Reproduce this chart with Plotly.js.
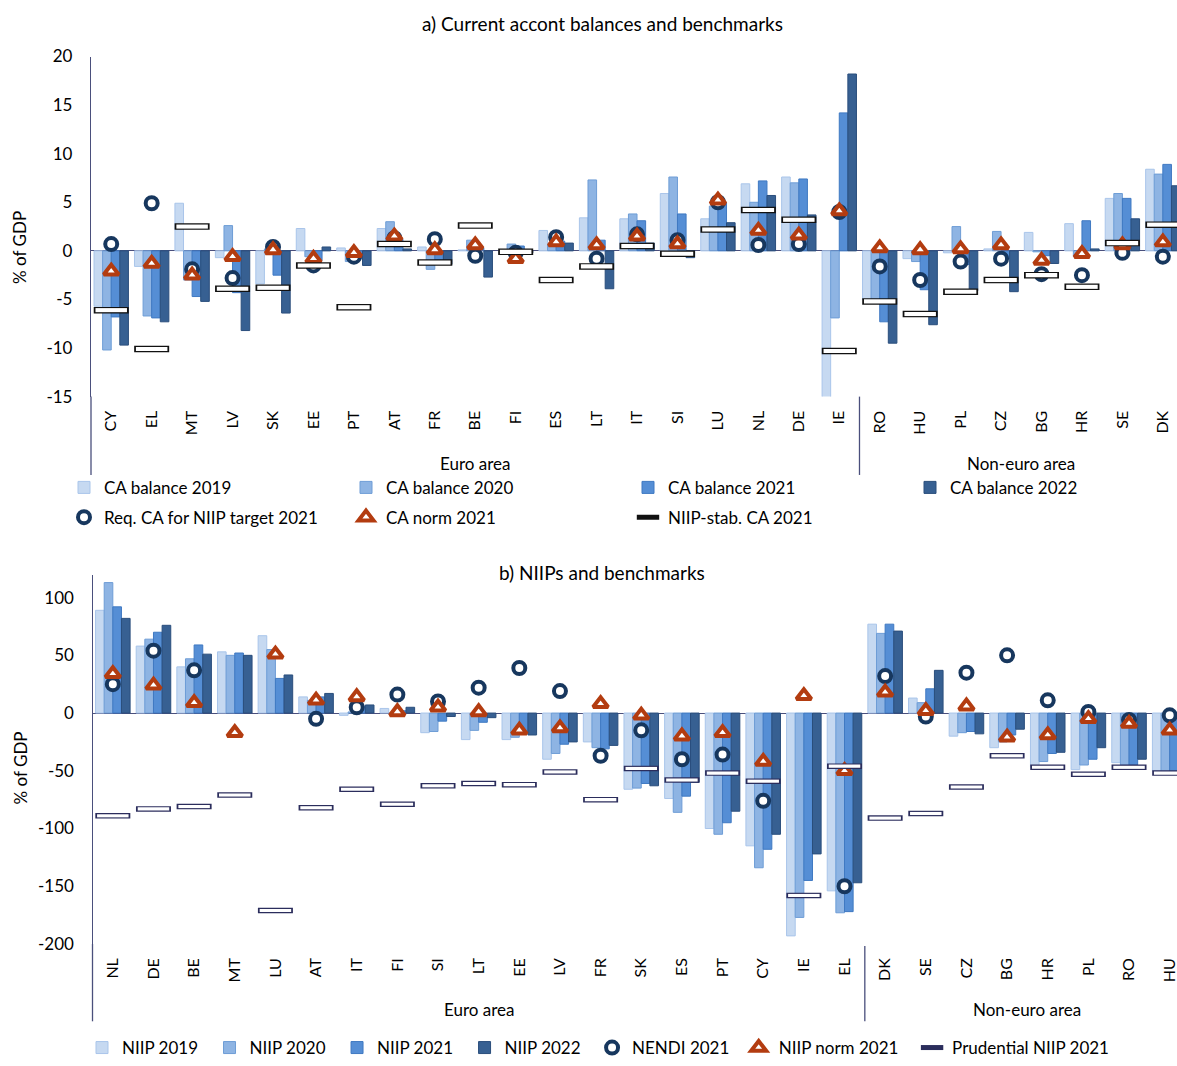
<!DOCTYPE html>
<html>
<head>
<meta charset="utf-8">
<script src="https://cdn.plot.ly/plotly-3.0.1.min.js"></script>
<style>html,body{margin:0;padding:0;background:#fff;overflow:hidden}</style>
</head>
<body>
<div id="chart" style="width:1177px;height:1066px"></div>
<script>
// ---------- Panel a) Current account balances ----------
const catsA = ["CY","EL","MT","LV","SK","EE","PT","AT","FR","BE","FI","ES","LT","IT","SI","LU","NL","DE","IE","RO","HU","PL","CZ","BG","HR","SE","DK"];
const ca2019 = [-5.7,-1.6,4.9,-0.7,-3.4,2.3,0.3,2.3,0.4,0.1,-0.3,2.1,3.4,3.3,5.9,3.3,6.9,7.6,-15.3,-5.0,-0.8,-0.2,0.2,1.9,2.8,5.4,8.4];
const ca2020 = [-10.2,-6.7,-3.0,2.6,0.2,-0.6,-1.1,3.0,-1.9,1.1,0.7,0.6,7.3,3.8,7.6,4.6,5.0,7.0,-6.9,-5.0,-1.1,2.5,2.0,-0.1,-0.6,5.9,7.9];
const ca2021 = [-6.8,-6.9,-4.7,-4.3,-2.5,-1.0,-0.8,1.2,-0.9,0.3,0.5,1.0,1.1,3.1,3.8,5.0,7.2,7.4,14.2,-7.3,-4.0,-1.4,-0.8,-0.5,3.1,5.4,8.9];
const ca2022 = [-9.7,-7.3,-5.2,-8.2,-6.4,0.4,-1.5,0.2,-1.4,-2.7,-0.2,0.8,-3.9,0.8,-0.7,2.9,5.7,3.7,18.2,-9.5,-7.6,-4.1,-4.2,-1.3,0.2,3.3,6.7];
const reqCA2021 = [0.7,4.9,-1.9,-2.8,0.4,-1.5,-0.6,1.3,1.2,-0.5,-0.2,1.4,-0.8,1.7,1.1,5.0,0.6,0.7,4.0,-1.6,-3.0,-1.1,-0.8,-2.4,-2.5,-0.2,-0.6];
const caNorm2021 = [-2.1,-1.3,-2.5,-0.6,0.1,-0.8,-0.2,1.5,0.1,0.6,-0.8,0.9,0.6,1.5,0.7,5.2,2.1,1.6,4.1,0.3,0.1,0.2,0.6,-1.0,-0.3,0.6,0.9];
const niipStabCA2021 = [-6.1,-10.1,2.5,-3.9,-3.8,-1.5,-5.8,0.7,-1.2,2.6,-0.1,-3.0,-1.6,0.5,-0.3,2.2,4.2,3.2,-10.3,-5.2,-6.5,-4.2,-3.0,-2.5,-3.7,0.8,2.7];
const yTicksA = [20,15,10,5,0,-5,-10,-15];
const yTickTextA = ["20","15","10","5","0","-5","-10","-15"];

// ---------- Panel b) NIIPs ----------
const catsB = ["NL","DE","BE","MT","LU","AT","IT","FI","SI","LT","EE","LV","FR","SK","ES","PT","CY","IE","EL","DK","SE","CZ","BG","HR","PL","RO","HU"];
const niip2019 = [89,58,40,53,67,14,-2,4,-17,-23,-23,-40,-25,-66,-74,-100,-115,-193,-154,77,13,-20,-30,-47,-49,-43,-50];
const niip2020 = [113,64,47,50,55,11,1,-1,-16,-15,-21,-35,-30,-65,-86,-105,-134,-177,-173,69,9,-17,-25,-42,-45,-45,-52];
const niip2021 = [92,70,59,52,30,14,6,2,-7,-8,-17,-27,-31,-61,-72,-95,-118,-145,-172,77,21,-16,-19,-35,-40,-45,-52];
const niip2022 = [82,76,51,50,33,17,7,5,-3,-4,-19,-25,-28,-63,-60,-85,-105,-122,-147,71,37,-18,-14,-34,-30,-40,-45];
const nendi2021 = [25,54,37,null,null,-5,5,16,10,22,39,19,-37,-15,-40,-36,-76,null,-150,32,-3,35,50,11,1,-6,-2];
const niipNorm2021 = [34,24,9,-17,51,11,14,1,5,1,-15,-13,8,-2,-20,-17,-42,15,-50,18,2,6,-21,-19,-5,-9,-15];
const prudNiip2021 = [-89,-83,-81,-71,-171,-82,-66,-79,-63,-61,-62,-51,-75,-48,-58,-52,-59,-158,-46,-91,-87,-64,-37,-47,-53,-47,-52];
const yTicksB = [100,50,0,-50,-100,-150,-200];
const yTickTextB = ["100","50","0","-50","-100","-150","-200"];

const groupLabels = ["Euro area","Non-euro area"];

// ---------- styles ----------
const FONT = "Lato, 'Open Sans', sans-serif";
const barFill = ["#C6D9F1","#8EB4E3","#558ED5","#376092"];
const barEdge = ["#A9C5EA","#6E9DD6","#3F79C2","#2A4E7C"];
const navy = "#17375E";
const rust = "#B33C10";
const axisCol = "#4A4F7C";
const NB = "\u00a0", TH = "\u2009";

function bars(x, y, name, i, xa, ya, lg) {
  return {type:"bar", x:x, y:y, name:name, xaxis:xa, yaxis:ya, legend:lg,
    marker:{color:barFill[i], line:{color:barEdge[i], width:1}}, hoverinfo:"x+y+name"};
}
function circles(x, y, name, xa, ya, lg) {
  return {type:"scatter", mode:"markers", x:x, y:y, name:name, xaxis:xa, yaxis:ya, legend:lg,
    marker:{symbol:"circle", size:12, color:"#ffffff", line:{color:navy, width:4}}, cliponaxis:false};
}
function triangles(x, y, name, xa, ya, lg) {
  return {type:"scatter", mode:"markers", x:x, y:y, name:name, xaxis:xa, yaxis:ya, legend:lg,
    marker:{symbol:"triangle-up", size:13, color:"#ffffff", line:{color:rust, width:4}}, cliponaxis:false};
}
function dashes(x, y, name, xa, ya, lg, edge, thick) {
  return [
    {type:"scatter", mode:"markers", x:x, y:y, name:name, xaxis:xa, yaxis:ya, legend:lg,
      marker:{symbol:"line-ew", size:25, color:edge, line:{color:edge, width:thick}}, cliponaxis:false},
    {type:"scatter", mode:"markers", x:x, y:y, name:name, xaxis:xa, yaxis:ya, showlegend:false, hoverinfo:"skip",
      marker:{symbol:"line-ew", size:22.5, color:"#ffffff", line:{color:"#ffffff", width:thick-2.4}}, cliponaxis:false}
  ];
}

const traces = [
  bars(catsA, ca2019, "CA balance 2019", 0, "x", "y", "legend"),
  bars(catsA, ca2020, "CA balance 2020", 1, "x", "y", "legend"),
  bars(catsA, ca2021, "CA balance 2021", 2, "x", "y", "legend"),
  bars(catsA, ca2022, "CA balance 2022", 3, "x", "y", "legend4"),
  circles(catsA, reqCA2021, "Req. CA for NIIP target 2021", "x", "y", "legend3"),
  triangles(catsA, caNorm2021, "CA norm 2021", "x", "y", "legend3"),
  ...dashes(catsA, niipStabCA2021, "NIIP-stab. CA 2021", "x", "y", "legend3", "#111111", 6.5),

  bars(catsB, niip2019, "NIIP 2019" + NB + TH, 0, "x2", "y2", "legend2"),
  bars(catsB, niip2020, "NIIP 2020" + NB + TH, 1, "x2", "y2", "legend2"),
  bars(catsB, niip2021, "NIIP 2021" + NB + TH, 2, "x2", "y2", "legend2"),
  bars(catsB, niip2022, "NIIP 2022" + NB + TH, 3, "x2", "y2", "legend2"),
  circles(catsB, nendi2021, "NENDI 2021" + NB, "x2", "y2", "legend2"),
  triangles(catsB, niipNorm2021, "NIIP norm 2021" + NB + NB, "x2", "y2", "legend2"),
  ...dashes(catsB, prudNiip2021, "Prudential NIIP 2021", "x2", "y2", "legend2", "#2B2D5C", 5.5)
];

const W = 1177, H = 1066;
const py = p => 1 - p / H;   // pixel row -> paper y

const xCommon = {type:"category", showgrid:false, showline:false, zeroline:false, ticks:"",
  tickangle:-90, tickfont:{family:FONT, size:16, color:"#000"}, ticklabelstandoff:10, fixedrange:true};
const yCommon = {showgrid:false, showline:true, linecolor:axisCol, linewidth:1.3, zeroline:true,
  zerolinecolor:axisCol, zerolinewidth:1.3, ticks:"", tickfont:{family:FONT, size:17, color:"#000"},
  ticklabelstandoff:14, fixedrange:true};
const legCommon = {orientation:"h", xanchor:"left", yanchor:"middle", traceorder:"normal",
  bgcolor:"rgba(0,0,0,0)", font:{family:FONT, size:17, color:"#000"}, itemclick:false, itemdoubleclick:false};

const layout = {
  width:W, height:H, margin:{l:0, r:0, t:0, b:0},
  paper_bgcolor:"#fff", plot_bgcolor:"#fff",
  font:{family:FONT, size:17, color:"#000"},
  barmode:"group", bargap:0.15, bargroupgap:0,
  xaxis: Object.assign({}, xCommon, {domain:[91/W, 1], range:[-0.5, 26.35], anchor:"y"}),
  yaxis: Object.assign({}, yCommon, {domain:[py(400), py(57)], range:[-15, 20], tickvals:yTicksA, ticktext:yTickTextA, anchor:"x"}),
  xaxis2: Object.assign({}, xCommon, {domain:[92.5/W, 1], range:[-0.5, 26.18], anchor:"y2"}),
  yaxis2: Object.assign({}, yCommon, {domain:[py(952), py(579.4)], range:[-200, 120], tickvals:yTicksB, ticktext:yTickTextB, anchor:"x2"}),
  legend: Object.assign({}, legCommon, {x:64/W, y:py(492), entrywidth:237, entrywidthmode:"pixels"}),
  legend4: Object.assign({}, legCommon, {x:910/W, y:py(492)}),
  legend3: Object.assign({}, legCommon, {x:64/W, y:py(522), entrywidth:237, entrywidthmode:"pixels"}),
  legend2: Object.assign({}, legCommon, {x:82/W, y:py(1057)}),
  annotations:[
    {text:"a) Current accont balances and benchmarks", xref:"paper", yref:"paper", x:602/W, y:py(24), yanchor:"middle",
      showarrow:false, font:{family:FONT, size:19, color:"#000"}},
    {text:"b) NIIPs and benchmarks", xref:"paper", yref:"paper", x:602/W, y:py(577), yanchor:"middle",
      showarrow:false, font:{family:FONT, size:19, color:"#000"}},
    {text:"% of GDP", xref:"paper", yref:"paper", x:20/W, y:py(250), textangle:-90, xanchor:"center", yanchor:"middle",
      showarrow:false, font:{family:FONT, size:17, color:"#000"}},
    {text:"% of GDP", xref:"paper", yref:"paper", x:20/W, y:py(775), textangle:-90, xanchor:"center", yanchor:"middle",
      showarrow:false, font:{family:FONT, size:17, color:"#000"}},
    {text:groupLabels[0], xref:"x", yref:"paper", x:9, y:py(467), yanchor:"middle", showarrow:false, font:{family:FONT, size:17}},
    {text:groupLabels[1], xref:"x", yref:"paper", x:22.5, y:py(467), yanchor:"middle", showarrow:false, font:{family:FONT, size:17}},
    {text:groupLabels[0], xref:"x2", yref:"paper", x:9, y:py(1018), yanchor:"middle", showarrow:false, font:{family:FONT, size:17}},
    {text:groupLabels[1], xref:"x2", yref:"paper", x:22.5, y:py(1018), yanchor:"middle", showarrow:false, font:{family:FONT, size:17}}
  ],
  shapes:[
    {type:"line", xref:"x domain", yref:"paper", x0:0, x1:0, y0:py(400), y1:py(479), line:{color:axisCol, width:1.3}},
    {type:"line", xref:"x", yref:"paper", x0:18.5, x1:18.5, y0:py(400), y1:py(479), line:{color:axisCol, width:1.3}},
    {type:"line", xref:"x2 domain", yref:"paper", x0:0, x1:0, y0:py(952), y1:py(1030), line:{color:axisCol, width:1.3}},
    {type:"line", xref:"x2", yref:"paper", x0:18.5, x1:18.5, y0:py(954), y1:py(1030), line:{color:axisCol, width:1.3}}
  ]
};

Plotly.newPlot("chart", traces, layout, {displayModeBar:false, responsive:false});
</script>
</body>
</html>
